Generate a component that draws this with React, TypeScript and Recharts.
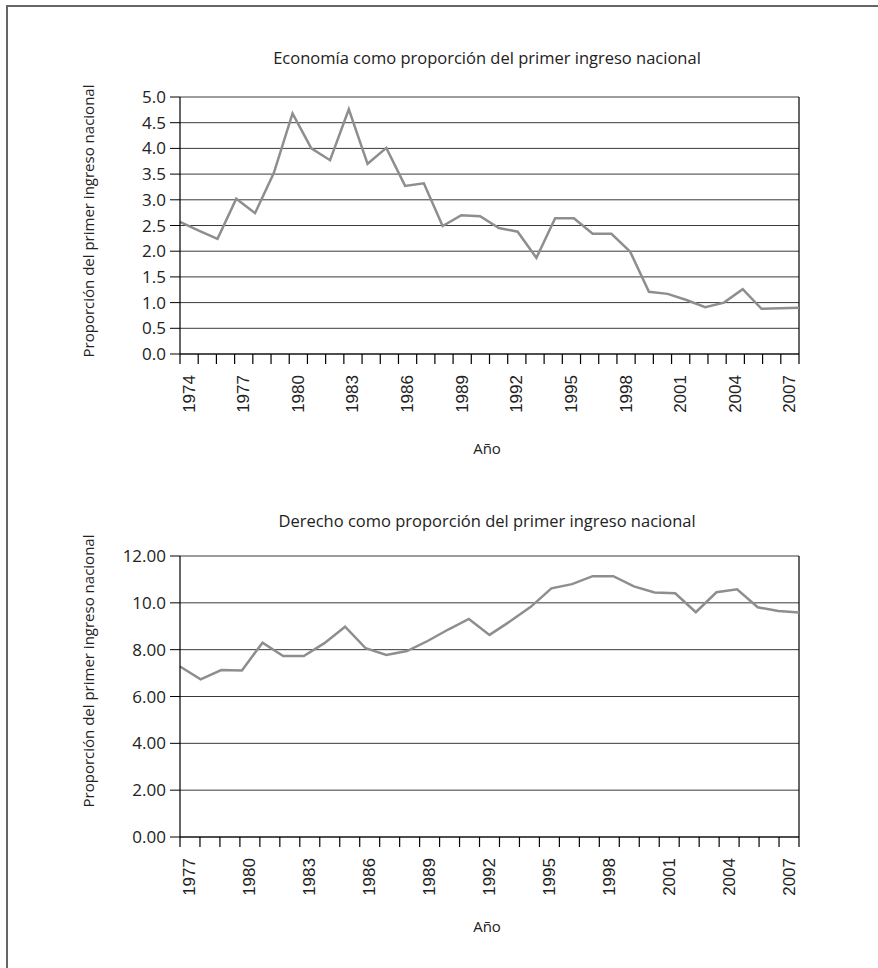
import React from "react";
import {
  LineChart,
  Line,
  XAxis,
  YAxis,
  CartesianGrid,
  ReferenceLine,
} from "recharts";

// Economía (1974-2007)
const yearsTop = [
  1974, 1975, 1976, 1977, 1978, 1979, 1980, 1981, 1982, 1983, 1984, 1985,
  1986, 1987, 1988, 1989, 1990, 1991, 1992, 1993, 1994, 1995, 1996, 1997,
  1998, 1999, 2000, 2001, 2002, 2003, 2004, 2005, 2006, 2007,
];
const economia = [
  2.57, 2.4, 2.24, 3.02, 2.74, 3.52, 4.68, 4.0, 3.77, 4.76, 3.7, 4.01, 3.27,
  3.32, 2.49, 2.7, 2.68, 2.45, 2.38, 1.87, 2.64, 2.64, 2.34, 2.34, 1.99, 1.21,
  1.17, 1.05, 0.91, 1.0, 1.26, 0.88, 0.89, 0.9,
];
const labelYearsTop = [1974, 1977, 1980, 1983, 1986, 1989, 1992, 1995, 1998, 2001, 2004, 2007];
const yTicksTop = [0, 0.5, 1, 1.5, 2, 2.5, 3, 3.5, 4, 4.5, 5];

// Derecho (1977-2007)
const yearsBottom = [
  1977, 1978, 1979, 1980, 1981, 1982, 1983, 1984, 1985, 1986, 1987, 1988,
  1989, 1990, 1991, 1992, 1993, 1994, 1995, 1996, 1997, 1998, 1999, 2000,
  2001, 2002, 2003, 2004, 2005, 2006, 2007,
];
const derecho = [
  7.28, 6.73, 7.13, 7.11, 8.3, 7.73, 7.73, 8.28, 8.98, 8.06, 7.77, 7.94,
  8.37, 8.86, 9.31, 8.63, 9.21, 9.83, 10.62, 10.8, 11.14, 11.14, 10.7, 10.44,
  10.41, 9.6, 10.45, 10.58, 9.81, 9.65, 9.59,
];
const labelYearsBottom = [1977, 1980, 1983, 1986, 1989, 1992, 1995, 1998, 2001, 2004, 2007];
const yTicksBottom = [0, 2, 4, 6, 8, 10, 12];
const yLabelsBottom = ["0.00", "2.00", "4.00", "6.00", "8.00", "10.0", "12.00"];

const W = 878;
const LEFT = 180;
const RIGHT = 79;
const PLOT_W = W - LEFT - RIGHT;

const sans = "'Open Sans', 'DejaVu Sans', sans-serif";
const arial = "'Liberation Sans', Arial, sans-serif";

function BandTick(props: any) {
  const { x, y, payload, labels, band } = props;
  const cx = x + band / 2;
  const show = labels.includes(payload.value + 0.5);
  return (
    <g>
      <line x1={x} y1={y} x2={x} y2={y + 10} stroke="#000" strokeWidth={1.2} />
      {show && (
        <text
          x={cx}
          y={y + 21}
          transform={`rotate(-90, ${cx}, ${y + 21})`}
          textAnchor="end"
          dominantBaseline="central"
          fontFamily={arial}
          fontSize={17}
          fill="#222"
        >
          {payload.value + 0.5}
        </text>
      )}
    </g>
  );
}

function Panel(props: {
  years: number[];
  values: number[];
  labels: number[];
  yTicks: number[];
  yFormat: (v: number) => string;
  height: number;
  top: number;
  bottom: number;
}) {
  const { years, values, labels, yTicks, yFormat, height, top, bottom } = props;
  const data = years.map((year, i) => ({ year, value: values[i] }));
  const first = years[0];
  const last = years[years.length - 1];
  const bounds = [...years.map((y) => y - 0.5), last + 0.5];
  const band = PLOT_W / years.length;
  return (
    <LineChart
      width={W}
      height={height}
      data={data}
      margin={{ top, right: RIGHT, left: 0, bottom }}
    >
      <CartesianGrid vertical={false} stroke="#3a3a3a" xAxisId="data" />
      <XAxis xAxisId="data" dataKey="year" type="number" domain={[first, last]} hide />
      <XAxis
        xAxisId="band"
        dataKey="year"
        type="number"
        domain={[first - 0.5, last + 0.5]}
        ticks={bounds}
        interval={0}
        height={60}
        tickLine={false}
        tickSize={0}
        tickMargin={0}
        axisLine={{ stroke: "#000", strokeWidth: 1.2 }}
        tick={<BandTick labels={labels} band={band} />}
      />
      <YAxis
        width={LEFT}
        domain={[yTicks[0], yTicks[yTicks.length - 1]]}
        ticks={yTicks}
        interval={0}
        tickFormatter={yFormat}
        tickSize={10}
        tickMargin={4}
        axisLine={{ stroke: "#000", strokeWidth: 1.2 }}
        tickLine={{ stroke: "#000" }}
        tick={{ fontFamily: sans, fontSize: 17, fill: "#222" }}
      />
      <ReferenceLine xAxisId="data" x={last} stroke="#000" strokeWidth={1.2} />
      <Line
        xAxisId="data"
        dataKey="value"
        type="linear"
        stroke="#8e8e8e"
        strokeWidth={2.5}
        dot={false}
        isAnimationActive={false}
      />
    </LineChart>
  );
}

const textStyle: React.CSSProperties = {
  position: "absolute",
  fontFamily: sans,
  fontSize: 15,
  color: "#222",
  whiteSpace: "nowrap",
  transform: "translate(-50%, -50%)",
};

export default function App() {
  return (
    <div style={{ position: "absolute", left: 0, top: 0, width: W, height: 968, background: "#fff", overflow: "hidden" }}>
      <div
        style={{
          position: "absolute",
          left: 6,
          top: 5,
          width: 900,
          height: 1000,
          borderTop: "2px solid #666",
          borderLeft: "2px solid #666",
        }}
      />
      <div style={{ position: "absolute", left: 0, top: 0 }}>
        <Panel
          years={yearsTop}
          values={economia}
          labels={labelYearsTop}
          yTicks={yTicksTop}
          yFormat={(v) => v.toFixed(1)}
          height={470}
          top={97}
          bottom={56}
        />
      </div>
      <div style={{ position: "absolute", left: 0, top: 470 }}>
        <Panel
          years={yearsBottom}
          values={derecho}
          labels={labelYearsBottom}
          yTicks={yTicksBottom}
          yFormat={(v) => yLabelsBottom[yTicksBottom.indexOf(v)]}
          height={498}
          top={86}
          bottom={71}
        />
      </div>
      <div style={{ ...textStyle, fontSize: 16.5, left: 487, top: 57 }}>
        Economía como proporción del primer ingreso nacional
      </div>
      <div style={{ ...textStyle, fontSize: 16.5, left: 487, top: 520 }}>
        Derecho como proporción del primer ingreso nacional
      </div>
      <div style={{ ...textStyle, left: 88, top: 221, transform: "translate(-50%, -50%) rotate(-90deg)" }}>
        Proporción del primer ingreso nacional
      </div>
      <div style={{ ...textStyle, left: 88, top: 671, transform: "translate(-50%, -50%) rotate(-90deg)" }}>
        Proporción del primer ingreso nacional
      </div>
      <div style={{ ...textStyle, left: 487, top: 448 }}>Año</div>
      <div style={{ ...textStyle, left: 487, top: 926 }}>Año</div>
    </div>
  );
}
